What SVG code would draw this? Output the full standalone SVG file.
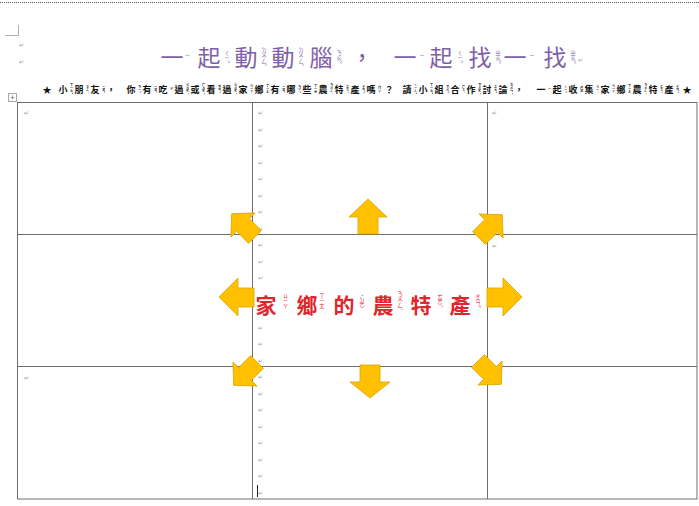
<svg xmlns="http://www.w3.org/2000/svg" width="699" height="506" viewBox="0 0 699 506">
<style>
.cjk{font-family:"Noto Sans CJK TC","Noto Sans CJK SC",sans-serif}
.title{font-size:23px;fill:#7F5FA8;text-anchor:middle}
.bt{font-size:5.5px;fill:#7F5FA8;writing-mode:vertical-rl;text-anchor:middle}
.ins{font-size:9px;font-weight:700;fill:#111;text-anchor:middle}
.bi{font-size:3.2px;font-weight:700;fill:#111;writing-mode:vertical-rl;text-anchor:middle}
.ctr{font-size:21px;font-weight:700;fill:#E0262B;text-anchor:middle}
.bc{font-size:5.5px;fill:#E0262B;writing-mode:vertical-rl;text-anchor:middle}
.pm{font-family:"DejaVu Sans",sans-serif;font-size:6px;fill:#9a9a9a}
.grid{stroke:#6e6e6e;stroke-width:1;fill:none}
.arr{fill:#FFC000;stroke:#D9A400;stroke-width:0.8}
</style>
<rect width="699" height="506" fill="#fff"/>
<line x1="0" y1="2.5" x2="699" y2="2.5" stroke="#555" stroke-dasharray="1 1"/>
<path d="M5.5 35.5H18.5V25" stroke="#b0b0b0" fill="none"/>
<text class="pm" x="19" y="47">↵</text>
<text class="pm" x="19" y="64">↵</text>

<g id="title" class="cjk">
<text class="title" x="172 209 246 283 321 362 405 441 480 515 555" y="66">一起動動腦，一起找一找</text>
<text class="bt" x="187.5" y="56">ㄧ</text>
<text class="bt" x="227" y="57">ㄑㄧˇ</text>
<text class="bt" x="264" y="57">ㄉㄨㄥˋ</text>
<text class="bt" x="301" y="57">ㄉㄨㄥˋ</text>
<text class="bt" x="339" y="57">ㄋㄠˇ</text>
<text class="bt" x="422" y="56">ㄧ</text>
<text class="bt" x="460" y="57">ㄑㄧˇ</text>
<text class="bt" x="498" y="57">ㄓㄠˇ</text>
<text class="bt" x="532" y="56">ㄧ</text>
<text class="bt" x="573" y="57">ㄓㄠˇ</text>
<text class="pm" x="578" y="62">↵</text>
</g>

<g id="instructions" class="cjk">
<text class="ins" x="47 63 79 95 111 131 147 163 179 195 211 227 243 259 275 291 307 323 339 355 371 389 407 423 439 455 471 487 503 519 541 557 573 589 605 621 637 653 669 687" y="93">★小朋友，你有吃過或看過家鄉有哪些農特產嗎？請小組合作討論，一起收集家鄉農特產★</text>
<text class="bi" x="71.5" y="89">ㄒㄧㄠˇ</text>
<text class="bi" x="87.5" y="89">ㄆㄥˊ</text>
<text class="bi" x="103.5" y="89">ㄧㄡˇ</text>
<text class="bi" x="139.5" y="89">ㄋㄧˇ</text>
<text class="bi" x="155.5" y="89">ㄧㄡˇ</text>
<text class="bi" x="171.5" y="89">ㄔ</text>
<text class="bi" x="187.5" y="89">ㄍㄨㄛˋ</text>
<text class="bi" x="203.5" y="89">ㄏㄨㄛˋ</text>
<text class="bi" x="219.5" y="89">ㄎㄢˋ</text>
<text class="bi" x="235.5" y="89">ㄍㄨㄛˋ</text>
<text class="bi" x="251.5" y="89">ㄐㄧㄚ</text>
<text class="bi" x="267.5" y="89">ㄒㄧㄤ</text>
<text class="bi" x="283.5" y="89">ㄧㄡˇ</text>
<text class="bi" x="299.5" y="89">ㄋㄚˇ</text>
<text class="bi" x="315.5" y="89">ㄒㄧㄝ</text>
<text class="bi" x="331.5" y="89">ㄋㄨㄥˊ</text>
<text class="bi" x="347.5" y="89">ㄊㄜˋ</text>
<text class="bi" x="363.5" y="89">ㄔㄢˇ</text>
<text class="bi" x="379.5" y="89">˙ㄇㄚ</text>
<text class="bi" x="415.5" y="89">ㄑㄧㄥˇ</text>
<text class="bi" x="431.5" y="89">ㄒㄧㄠˇ</text>
<text class="bi" x="447.5" y="89">ㄗㄨˇ</text>
<text class="bi" x="463.5" y="89">ㄏㄜˊ</text>
<text class="bi" x="479.5" y="89">ㄗㄨㄛˋ</text>
<text class="bi" x="495.5" y="89">ㄊㄠˇ</text>
<text class="bi" x="511.5" y="89">ㄌㄨㄣˋ</text>
<text class="bi" x="549.5" y="89">ㄧ</text>
<text class="bi" x="565.5" y="89">ㄑㄧˇ</text>
<text class="bi" x="581.5" y="89">ㄕㄡ</text>
<text class="bi" x="597.5" y="89">ㄐㄧˊ</text>
<text class="bi" x="613.5" y="89">ㄐㄧㄚ</text>
<text class="bi" x="629.5" y="89">ㄒㄧㄤ</text>
<text class="bi" x="645.5" y="89">ㄋㄨㄥˊ</text>
<text class="bi" x="661.5" y="89">ㄊㄜˋ</text>
<text class="bi" x="677.5" y="89">ㄔㄢˇ</text>
</g>

<g id="table">
<rect x="8.5" y="93.5" width="8" height="8" fill="#fff" stroke="#a8a8a8"/>
<path d="M12.5 95.5V99.5M10.5 97.5H14.5" stroke="#888" stroke-width="0.8"/>
<rect class="grid" x="17.5" y="102.5" width="679.5" height="396.5"/>
<line class="grid" x1="252.5" y1="102.5" x2="252.5" y2="499"/>
<line class="grid" x1="487.5" y1="102.5" x2="487.5" y2="499"/>
<line class="grid" x1="17.5" y1="234.5" x2="697" y2="234.5"/>
<line class="grid" x1="17.5" y1="366.5" x2="697" y2="366.5"/>
<g class="pm">
<text x="24" y="115">↵</text>
<text x="24" y="380">↵</text>
<text x="492" y="115">↵</text>
<text x="492" y="248">↵</text>
<text x="492" y="380">↵</text>
<text x="258" y="115">↵</text><text x="258" y="131.5">↵</text><text x="258" y="148">↵</text><text x="258" y="164.5">↵</text>
<text x="258" y="181">↵</text><text x="258" y="197.5">↵</text><text x="258" y="214">↵</text><text x="258" y="230.5">↵</text>
<text x="258" y="247">↵</text><text x="258" y="263.5">↵</text><text x="258" y="280">↵</text>
<text x="258" y="329.5">↵</text><text x="258" y="346">↵</text><text x="258" y="362.5">↵</text>
<text x="258" y="379">↵</text><text x="258" y="395.5">↵</text><text x="258" y="412">↵</text><text x="258" y="428.5">↵</text>
<text x="258" y="445">↵</text><text x="258" y="461.5">↵</text><text x="258" y="478">↵</text><text x="258" y="494.5">↵</text>
</g>
<line x1="257.5" y1="485" x2="257.5" y2="497" stroke="#222"/>
</g>

<g id="arrows">
<polygon id="arrow-up" class="arr" points="368,199 387,217 378,217 378,234 358,234 358,217 349,217"/>
<polygon id="arrow-down" class="arr" points="360,365 380,365 380,382 390,382 370,398 350,382 360,382"/>
<polygon id="arrow-left" class="arr" points="219,297 238,278 238,288 254,288 254,307 238,307 238,316"/>
<polygon id="arrow-right" class="arr" points="522,297 503,278 503,288 487,288 487,307 503,307 503,316"/>
<polygon id="arrow-nw" class="arr" transform="translate(243,225) rotate(-45)" points="0,-16 17,0 9,0 9,17 -9,17 -9,0 -17,0"/>
<polygon id="arrow-ne" class="arr" transform="translate(491,226) rotate(45)" points="0,-16 17,0 9,0 9,17 -9,17 -9,0 -17,0"/>
<polygon id="arrow-sw" class="arr" transform="translate(245,374) rotate(-135)" points="0,-16 17,0 9,0 9,17 -9,17 -9,0 -17,0"/>
<polygon id="arrow-se" class="arr" transform="translate(490,373) rotate(135)" points="0,-16 17,0 9,0 9,17 -9,17 -9,0 -17,0"/>
</g>

<g id="center-label" class="cjk">
<text class="ctr" x="266 307 344 383 421 460" y="313">家鄉的農特產</text>
<text class="bc" x="285.5" y="301">ㄐㄧㄚ</text>
<text class="bc" x="322" y="301">ㄒㄧㄤ</text>
<text class="bc" x="362" y="301">˙ㄉㄜ</text>
<text class="bc" x="400" y="301">ㄋㄨㄥˊ</text>
<text class="bc" x="440" y="301">ㄊㄜˋ</text>
<text class="bc" x="478" y="301">ㄔㄢˇ</text>
</g>
</svg>
